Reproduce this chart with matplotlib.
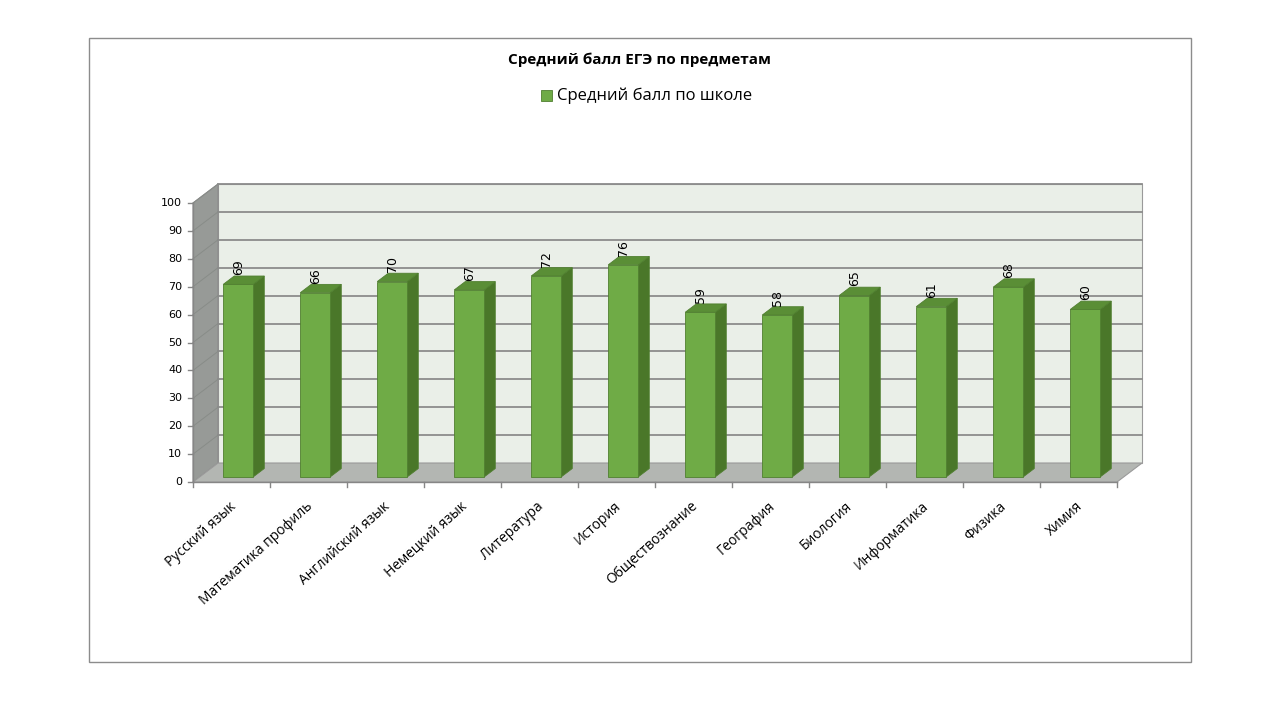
import matplotlib.pyplot as plt
from matplotlib.patches import Polygon, Rectangle

subjects = ["Русский язык", "Математика профиль", "Английский язык", "Немецкий язык",
            "Литература", "История", "Обществознание", "География", "Биология",
            "Информатика", "Физика", "Химия"]
scores = [69, 66, 70, 67, 72, 76, 59, 58, 65, 61, 68, 60]
yticks = list(range(0, 101, 10))

title = "Средний балл ЕГЭ по предметам"
series_name = "Средний балл по школе"

# pseudo-3d geometry (category units / value units)
DX, DY = 0.325, 6.8
BAR_W = 0.39
F0, F1 = 0.27, 0.71

c_front = "#6FAB46"
c_side = "#4A7729"
c_top = "#5A8E36"
c_edge = "#507F30"

fig = plt.figure(figsize=(12.8, 7.2), dpi=100)
ax = fig.add_axes([0, 0, 1, 1])
ax.set_xlim(-193 / 77, (1280 - 193) / 77)
ax.set_ylim((482 - 720) / 2.79, 482 / 2.79)
ax.axis("off")

fig.patches.append(Rectangle((89 / 1280, 1 - 662 / 720), 1102 / 1280, 624 / 720,
                             transform=fig.transFigure, fill=False, ec="#8C8C8C", lw=1))

n = len(scores)
# back wall
ax.add_patch(Rectangle((DX, DY), n, 100, fc="#EAEFE8", ec="#9A9A9A", lw=0.8, zorder=1))
# left wall
ax.add_patch(Polygon([(0, 0), (0, 100), (DX, 100 + DY), (DX, DY)], closed=True,
                     fc="#979A97", ec="#8A8A8A", lw=0.8, zorder=1))
# floor
ax.add_patch(Polygon([(0, 0), (n, 0), (n + DX, DY), (DX, DY)], closed=True,
                     fc="#B3B6B2", ec="#9A9A9A", lw=0.8, zorder=2))

for v in yticks[1:]:
    ax.plot([DX, n + DX], [v + DY, v + DY], color="#8C8C8C", lw=1.3, zorder=1.5)
    ax.plot([0, DX], [v, v + DY], color="#888C88", lw=0.7, zorder=1.5)

# axes lines and ticks
ax.plot([0, 0], [0, 100], color="#868686", lw=1, zorder=3)
ax.plot([0, n], [0, 0], color="#868686", lw=1, zorder=3)
for v in yticks:
    ax.plot([-0.065, 0], [v, v], color="#868686", lw=1, zorder=3)
    ax.text(-0.14, v, str(v), ha="right", va="center", fontsize=8,
            family="DejaVu Sans", color="black")
for i in range(n + 1):
    ax.plot([i, i], [0, -1.9], color="#868686", lw=1, zorder=3)

# bars
ddx, ddy = (F1 - F0) * DX, (F1 - F0) * DY
for i, (name, v) in enumerate(zip(subjects, scores)):
    x0 = i + (1 - BAR_W) / 2 + F0 * DX
    x1 = x0 + BAR_W
    y0 = F0 * DY
    y1 = v + F0 * DY
    ax.add_patch(Polygon([(x1, y0), (x1 + ddx, y0 + ddy), (x1 + ddx, y1 + ddy), (x1, y1)],
                         closed=True, fc=c_side, ec=c_edge, lw=0.6, zorder=4))
    ax.add_patch(Polygon([(x0, y1), (x1, y1), (x1 + ddx, y1 + ddy), (x0 + ddx, y1 + ddy)],
                         closed=True, fc=c_top, ec=c_edge, lw=0.6, zorder=4))
    ax.add_patch(Rectangle((x0, y0), BAR_W, v, fc=c_front, ec=c_edge, lw=0.6, zorder=5))
    ax.text(x0 + BAR_W / 2, y1 + ddy + 0.3, str(v), rotation=90, ha="center", va="bottom",
            fontsize=9, family="DejaVu Sans", color="black", zorder=6)
    ax.text(i + 0.53, -8.0, name, rotation=42, rotation_mode="anchor", ha="right",
            va="center", fontsize=10, family="Open Sans", color="black")

fig.text(640 / 1280, 1 - 60 / 720, title, ha="center", va="center", fontsize=11,
         fontweight="bold", family="Open Sans")
fig.patches.append(Rectangle((541 / 1280, 1 - 101 / 720), 11 / 1280, 11 / 720,
                             transform=fig.transFigure, fc=c_front, ec=c_edge, lw=0.6))
fig.text(557 / 1280, 1 - 96 / 720, series_name, ha="left", va="center", fontsize=12,
         family="Open Sans")

fig.savefig("out.png", dpi=100)
